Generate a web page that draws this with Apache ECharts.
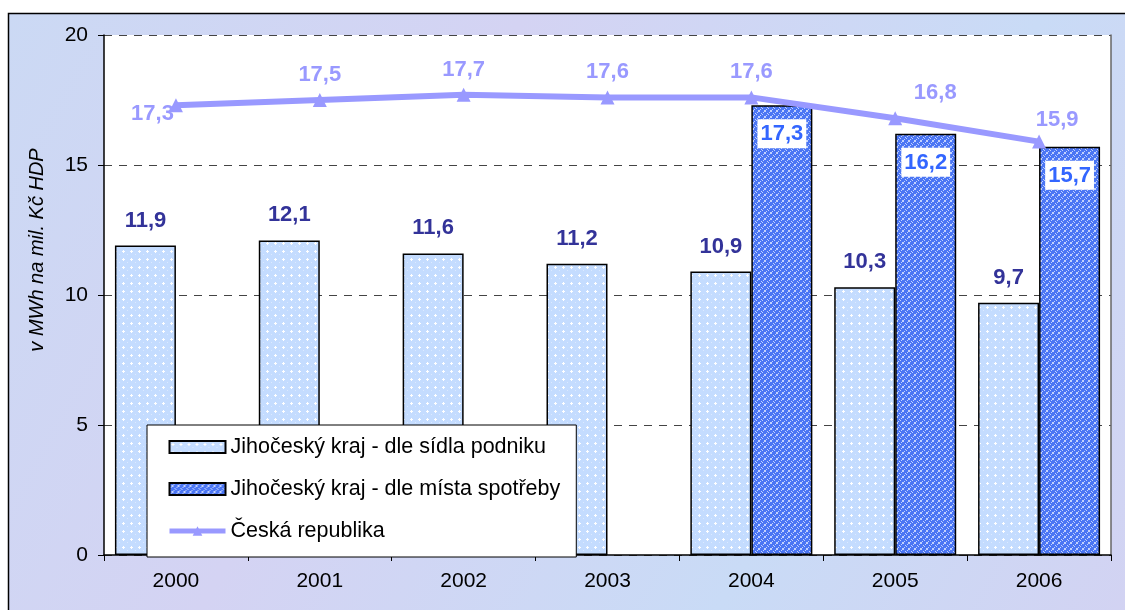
<!DOCTYPE html>
<html>
<head>
<meta charset="utf-8">
<script src="https://cdn.jsdelivr.net/npm/echarts@6/dist/echarts.min.js"></script>
<style>
  html, body { margin: 0; padding: 0; background: #fff; }
  #chart { width: 1125px; height: 610px; }
</style>
</head>
<body>
<div id="chart"></div>
<script>
// data
const years = ['2000', '2001', '2002', '2003', '2004', '2005', '2006'];
const sidloPodniku = [11.9, 12.1, 11.6, 11.2, 10.9, 10.3, 9.7];
const mistoSpotreby = [null, null, null, null, 17.3, 16.2, 15.7];
const ceskaRepublika = [17.3, 17.5, 17.7, 17.6, 17.6, 16.8, 15.9];

const FONT = '"Liberation Sans", Arial, sans-serif';
const fmt = (p) => p.value == null ? '' : Number(p.value).toFixed(1).replace('.', ',');

// simple canvas fills to mimic the excel patterns
function dotPattern() {
  const c = document.createElement('canvas');
  c.width = 8; c.height = 8;
  const g = c.getContext('2d');
  g.fillStyle = '#c4dcff';
  g.fillRect(0, 0, 8, 8);
  g.fillStyle = '#ffffff';
  g.fillRect(3, 2, 1, 3);
  g.fillRect(2, 3, 3, 1);
  g.fillStyle = '#dbe9ff';
  g.fillRect(7, 6, 1, 1);
  return c;
}

function crossPattern() {
  const c = document.createElement('canvas');
  c.width = 6; c.height = 6;
  const g = c.getContext('2d');
  g.fillStyle = '#4b76f4';
  g.fillRect(0, 0, 6, 6);
  g.fillStyle = '#c3d2fd';
  g.fillRect(0, 0, 1, 1);
  g.fillRect(2, 2, 2, 2);
  g.fillRect(5, 5, 1, 1);
  g.fillRect(1, 4, 1, 1);
  g.fillRect(4, 1, 1, 1);
  return c;
}

const chart = echarts.init(document.getElementById('chart'));

const lineData = ceskaRepublika.map((v, i) => {
  if (i === 0) return { value: v, label: { position: 'left', distance: 2, offset: [7, 9] } };
  if (i === 5) return { value: v, label: { offset: [40, 0] } };
  if (i === 6) return { value: v, label: { offset: [18, 3] } };
  return v;
});

const option = {
  animation: false,
  graphic: [
    {
      type: 'rect',
      z: -10,
      shape: { x: 8.5, y: 13.5, width: 1140, height: 620 },
      style: {
        fill: new echarts.graphic.LinearGradient(0, 0, 1, 1, [
          { offset: 0, color: '#cbd9f4' },
          { offset: 0.35, color: '#d4d3f3' },
          { offset: 0.7, color: '#c9dbf6' },
          { offset: 1, color: '#d3d2f2' },
        ]),
        stroke: '#000',
        lineWidth: 1.5,
      },
    },
    {
      type: 'text',
      x: 37,
      y: 250,
      rotation: Math.PI / 2,
      style: {
        text: 'v MWh na mil. Kč HDP',
        font: 'italic 20px ' + FONT,
        fill: '#000',
        textAlign: 'center',
        textVerticalAlign: 'middle',
      },
    },
  ],
  grid: {
    left: 104,
    right: 14,
    top: 35,
    bottom: 55,
    show: true,
    backgroundColor: '#fff',
    borderWidth: 0,
  },
  legend: {
    orient: 'vertical',
    left: 147,
    top: 425,
    backgroundColor: '#fff',
    borderColor: '#000',
    borderWidth: 1,
    borderRadius: 0,
    padding: [11, 16, 15, 20],
    itemGap: 20,
    itemWidth: 56,
    itemHeight: 12,
    textStyle: { fontFamily: FONT, fontSize: 21.5, color: '#000' },
    data: [
      { name: 'Jihočeský kraj - dle sídla podniku', icon: 'rect' },
      { name: 'Jihočeský kraj - dle místa spotřeby', icon: 'rect' },
      { name: 'Česká republika', lineStyle: { width: 5, color: '#9999ff' } },
    ],
  },
  xAxis: {
    type: 'category',
    data: years,
    axisLine: { lineStyle: { color: '#000', width: 1.5 } },
    axisTick: { show: true, length: 6, inside: false, lineStyle: { color: '#000' } },
    axisLabel: { color: '#000', fontSize: 21, margin: 16, fontFamily: FONT },
  },
  yAxis: [
    {
      type: 'value',
      min: 0,
      max: 20,
      interval: 5,
      axisLine: { show: true, lineStyle: { color: '#000', width: 1.5 } },
      axisTick: { show: true, length: 6, lineStyle: { color: '#000' } },
      axisLabel: { color: '#000', fontSize: 21, margin: 16, fontFamily: FONT },
      splitLine: { show: true, lineStyle: { color: '#444', type: [8, 7], width: 1 } },
    },
    {
      type: 'value',
      min: 0,
      max: 20,
      interval: 5,
      position: 'right',
      axisLine: { show: true, lineStyle: { color: '#666', width: 1.5 } },
      axisTick: { show: false },
      axisLabel: { show: false },
      splitLine: { show: false },
    },
  ],
  series: [
    {
      name: 'Jihočeský kraj - dle sídla podniku',
      type: 'bar',
      data: sidloPodniku,
      barWidth: 61,
      barGap: '0%',
      itemStyle: {
        color: { image: dotPattern(), repeat: 'repeat' },
        borderColor: '#000',
        borderWidth: 1.5,
      },
      label: {
        show: true,
        position: 'top',
        distance: 14,
        formatter: fmt,
        color: '#333399',
        fontWeight: 'bold',
        fontSize: 22,
        fontFamily: FONT,
      },
    },
    {
      name: 'Jihočeský kraj - dle místa spotřeby',
      type: 'bar',
      data: mistoSpotreby,
      barWidth: 61,
      barGap: '0%',
      itemStyle: {
        color: { image: crossPattern(), repeat: 'repeat' },
        borderColor: '#000',
        borderWidth: 1.5,
      },
      label: {
        show: true,
        position: 'insideTop',
        distance: 14,
        formatter: fmt,
        color: '#3366ff',
        backgroundColor: '#fff',
        padding: [4, 3, 3, 3],
        fontWeight: 'bold',
        fontSize: 22,
        fontFamily: FONT,
      },
    },
    {
      name: 'Česká republika',
      type: 'line',
      data: lineData,
      z: 5,
      symbol: 'triangle',
      symbolSize: 14,
      lineStyle: { color: '#9999ff', width: 6 },
      itemStyle: { color: '#9999ff' },
      label: {
        show: true,
        position: 'top',
        distance: 7,
        formatter: fmt,
        color: '#9999ff',
        fontWeight: 'bold',
        fontSize: 22,
        fontFamily: FONT,
      },
    },
  ],
};

chart.setOption(option);
</script>
</body>
</html>
